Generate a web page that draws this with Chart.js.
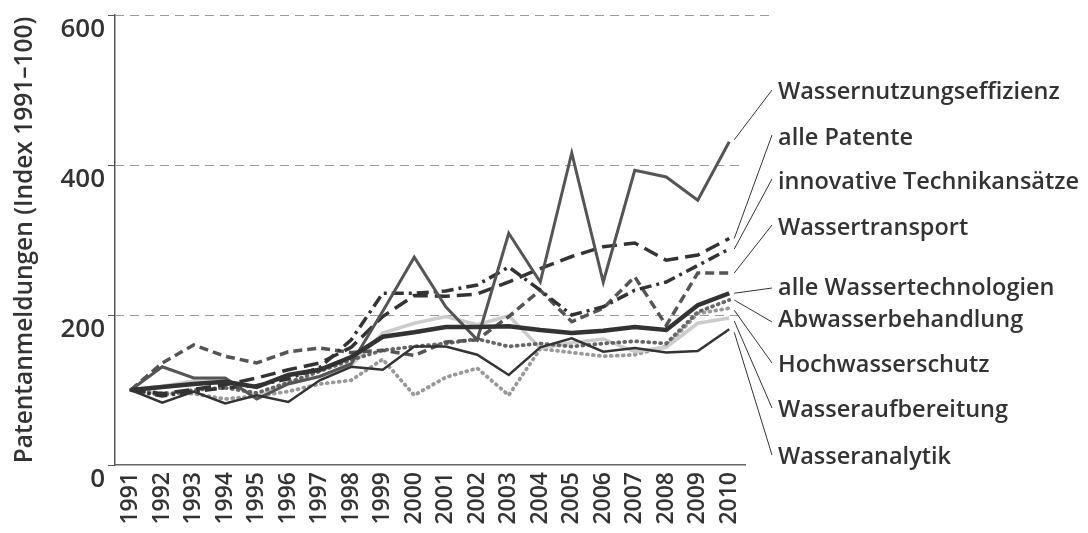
<!DOCTYPE html>
<html>
<head>
<meta charset="utf-8">
<script src="https://cdn.jsdelivr.net/npm/chart.js@4.4.1/dist/chart.umd.min.js"></script>
<style>
html,body{margin:0;padding:0;background:#fff;}
#wrap{width:1088px;height:533px;position:relative;}
</style>
</head>
<body>
<div id="wrap"><canvas id="c" width="1088" height="533"></canvas></div>
<script>
// ---- data ----
const years = ['1991','1992','1993','1994','1995','1996','1997','1998','1999','2000',
               '2001','2002','2003','2004','2005','2006','2007','2008','2009','2010'];
const seriesNames = ['Wassernutzungseffizienz','alle Patente','innovative Technikansätze','Wassertransport',
                     'alle Wassertechnologien','Abwasserbehandlung','Hochwasserschutz','Wasseraufbereitung','Wasseranalytik'];
const wassernutzungseffizienz = [100,131,116,116,88,108,118,135,205,277,211,167,309,244,416,244,393,384,353,431];
const allePatente            = [100,95,101,107,116,127,136,157,198,226,225,228,244,262,278,291,296,273,280,302];
const innovativeTechnik      = [100,92,98,103,106,115,130,167,229,229,232,240,264,233,200,211,233,244,266,288];
const wassertransport        = [100,136,160,145,136,151,156,150,153,146,164,167,198,233,191,209,251,186,256,256];
const alleWassertechnologien = [100,104,108,111,104,120,127,144,171,177,184,184,185,180,176,179,184,180,213,229];
const abwasserbehandlung     = [100,93,100,103,96,110,125,140,153,158,162,168,158,162,158,162,165,162,204,220];
const hochwasserschutz       = [100,96,95,88,92,98,108,113,141,93,117,129,93,155,150,145,147,158,202,209];
const wasseraufbereitung     = [100,105,112,113,91,110,118,133,176,189,198,187,199,156,163,168,151,157,189,196];
const wasseranalytik         = [100,83,98,82,93,84,113,131,127,158,158,147,120,157,169,151,156,150,152,181];
const yTickValues = [0,200,400,600];
const yTitle = 'Patentanmeldungen (Index 1991–100)';

const seriesData = [wassernutzungseffizienz, allePatente, innovativeTechnik, wassertransport,
                    alleWassertechnologien, abwasserbehandlung, hochwasserschutz, wasseraufbereitung, wasseranalytik];

// ---- styles ----
const styles = [
  {color:'#555555', width:3,   dash:[],          cap:'butt',  order:3},
  {color:'#333333', width:3.5, dash:[15,7],      cap:'butt',  order:4},
  {color:'#333333', width:3.5, dash:[12,5,3,5],  cap:'butt',  order:5},
  {color:'#555555', width:3.5, dash:[9,5],       cap:'butt',  order:6},
  {color:'#333333', width:4.5, dash:[],          cap:'butt',  order:1},
  {color:'#666666', width:3.8, dash:[1,5],       cap:'round', order:7},
  {color:'#999999', width:3.8, dash:[1,5],       cap:'round', order:9},
  {color:'#cccccc', width:3.5, dash:[],          cap:'butt',  order:8},
  {color:'#333333', width:2.5, dash:[],          cap:'butt',  order:2}
];

const FONT = "'Open Sans', 'DejaVu Sans', sans-serif";

const gridPlugin = {
  id: 'dashGrid',
  beforeDatasetsDraw(chart, args, opts) {
    const ctx = chart.ctx, y = chart.scales.y, area = chart.chartArea;
    ctx.save();
    ctx.strokeStyle = '#9a9a9a';
    ctx.lineWidth = 1;
    ctx.setLineDash([9,6]);
    yTickValues.forEach(v => {
      if (v === 0) return;
      const py = Math.round(y.getPixelForValue(v)) + 0.5;
      ctx.beginPath();
      ctx.moveTo(area.left, py);
      ctx.lineTo(v === 600 ? opts.topRight : area.right, py);
      ctx.stroke();
    });
    ctx.restore();
  }
};

const endLabelPlugin = {
  id: 'endLabels',
  afterDatasetsDraw(chart, args, opts) {
    const ctx = chart.ctx;
    ctx.save();
    ctx.font = opts.font;
    ctx.textBaseline = 'middle';
    ctx.textAlign = 'left';
    chart.data.datasets.forEach((ds, i) => {
      const meta = chart.getDatasetMeta(i);
      const pt = meta.data[meta.data.length - 1];
      const ly = opts.labelY[i];
      ctx.beginPath();
      ctx.strokeStyle = '#333';
      ctx.lineWidth = 1;
      ctx.setLineDash([]);
      ctx.moveTo(pt.x + 5, pt.y + opts.startDy[i]);
      ctx.lineTo(opts.labelX - 6, ly + opts.endDy[i]);
      ctx.stroke();
      ctx.fillStyle = '#333';
      ctx.fillText(ds.label, opts.labelX, ly);
    });
    ctx.restore();
  }
};

new Chart(document.getElementById('c'), {
  type: 'line',
  data: {
    labels: years,
    datasets: seriesData.map((d, i) => ({
      label: seriesNames[i],
      data: d,
      borderColor: styles[i].color,
      borderWidth: styles[i].width,
      borderDash: styles[i].dash,
      borderCapStyle: styles[i].cap,
      borderJoinStyle: 'miter',
      pointRadius: 0,
      tension: 0,
      fill: false,
      order: styles[i].order
    }))
  },
  options: {
    responsive: false,
    animation: false,
    devicePixelRatio: 1,
    layout: {padding: {left: 0, right: 343, top: 15, bottom: 0}},
    plugins: {
      legend: {display: false},
      tooltip: {enabled: false},
      dashGrid: {topRight: 775},
      endLabels: {
        font: "600 23.5px " + FONT,
        labelX: 778,
        labelY: [92, 138, 182, 228, 288, 320, 365, 410, 457],
        startDy: [-2, 0, 0, 0, 0, 0, 2, 3, 3],
        endDy: [-2, -3, -3, -3, 0, 2, -2, -2, -2]
      }
    },
    scales: {
      x: {
        type: 'category',
        offset: true,
        grid: {display: false, drawTicks: false},
        border: {display: true, color: '#666', width: 1.5},
        ticks: {
          autoSkip: false, minRotation: 90, maxRotation: 90, padding: 7,
          color: '#333', font: {family: FONT, size: 23, weight: '600'}
        },
        afterFit(scale) { scale.height = 68; }
      },
      y: {
        min: 0, max: 600,
        afterBuildTicks(scale) { scale.ticks = yTickValues.map(v => ({value: v})); },
        grid: {drawOnChartArea: false, drawTicks: true, tickLength: 7, color: '#555', tickColor: '#555'},
        border: {display: true, color: '#555', width: 1.5},
        ticks: {
          padding: 3, labelOffset: 15, color: '#333',
          font: {family: FONT, size: 26, weight: '600'}
        },
        title: {
          display: true, text: yTitle, color: '#333',
          font: {family: FONT, size: 24.5, weight: '600'},
          padding: {top: 10, bottom: 0}
        },
        afterFit(scale) { scale.width = 115; scale.paddingTop = 0; scale.paddingBottom = 0; }
      }
    }
  },
  plugins: [gridPlugin, endLabelPlugin]
});
</script>
</body>
</html>
